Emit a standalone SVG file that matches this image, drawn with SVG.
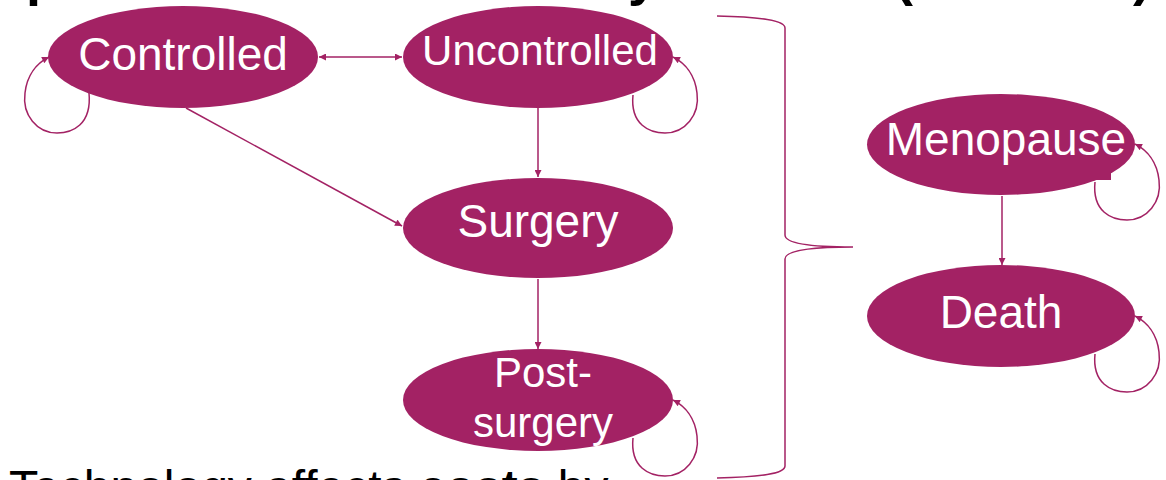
<svg xmlns="http://www.w3.org/2000/svg" width="1166" height="480" viewBox="0 0 1166 480">
<style>
.node{fill:#A32264;}
.lbl{fill:#ffffff;font-family:"Liberation Sans",Arial,sans-serif;text-anchor:middle;}
.edge{fill:none;stroke:#A32264;stroke-width:1.5;}
.title{fill:#000000;font-family:"Liberation Sans",Arial,sans-serif;font-weight:bold;font-size:54px;}
.body{fill:#000000;font-family:"Liberation Sans",Arial,sans-serif;font-size:48px;}
</style>
<defs>
<marker id="ah" viewBox="0 0 10 10" refX="10" refY="5" markerWidth="8" markerHeight="7" markerUnits="userSpaceOnUse" orient="auto-start-reverse">
<path d="M0,0 L10,5 L0,10 z" fill="#A32264"/>
</marker>
</defs>
<rect width="1166" height="480" fill="#ffffff"/>
<text class="title" y="-5"><tspan x="26">p</tspan><tspan x="628">y</tspan><tspan x="895">(</tspan><tspan x="1133">)</tspan></text>
<g id="connectors">
<line class="edge" x1="319" y1="57" x2="402" y2="57" marker-start="url(#ah)" marker-end="url(#ah)"/>
<line class="edge" x1="186" y1="108" x2="402" y2="226" marker-end="url(#ah)"/>
<line class="edge" x1="538" y1="108" x2="538" y2="177" marker-end="url(#ah)"/>
<line class="edge" x1="538" y1="279" x2="538" y2="349" marker-end="url(#ah)"/>
<line class="edge" x1="1002" y1="196" x2="1002" y2="265" marker-end="url(#ah)"/>
<path class="edge" d="M89,93 C92,125 72,133 57,133 C37,133 22,115 25,93 C27,75 37,63 49,57" marker-end="url(#ah)"/>
<path class="edge" d="M633,95 C630,125 650,133 665,133 C685,133 700,115 697,93 C695,75 685,63 673,57" marker-end="url(#ah)"/>
<path class="edge" d="M633,438 C630,468 650,476 665,476 C685,476 700,458 697,436 C695,418 685,406 673,400" marker-end="url(#ah)"/>
<path class="edge" d="M1095,182 C1092,212 1112,220 1127,220 C1147,220 1162,202 1159,180 C1157,162 1147,150 1135,144" marker-end="url(#ah)"/>
<path class="edge" d="M1095,354 C1092,384 1112,392 1127,392 C1147,392 1162,374 1159,352 C1157,334 1147,322 1135,316" marker-end="url(#ah)"/>
<path class="edge" d="M717,16 C760,17 785,20 785,28 L785,235 C785,243 810,247 853,247 C810,247 785,251 785,259 L785,466 C785,474 760,477 717,478"/>
</g>
<g id="controlled">
<ellipse class="node" cx="183" cy="57" rx="135" ry="51"/>
<text class="lbl" x="183" y="70" font-size="46">Controlled</text>
</g>
<g id="uncontrolled">
<ellipse class="node" cx="538" cy="57" rx="135" ry="51"/>
<text class="lbl" x="540" y="65" font-size="42">Uncontrolled</text>
</g>
<g id="surgery">
<ellipse class="node" cx="538" cy="228" rx="135" ry="50"/>
<text class="lbl" x="538" y="237" font-size="46">Surgery</text>
</g>
<g id="post-surgery">
<ellipse class="node" cx="538" cy="400" rx="135" ry="51"/>
<text class="lbl" x="543" y="387" font-size="42">Post-</text>
<text class="lbl" x="543" y="437" font-size="42">surgery</text>
</g>
<g id="menopause">
<ellipse class="node" cx="1001" cy="144.5" rx="134" ry="50.5"/>
<rect class="node" x="1090" y="165" width="21" height="15"/>
<text class="lbl" x="1006" y="155" font-size="46">Menopause</text>
</g>
<g id="death">
<ellipse class="node" cx="1001" cy="316" rx="134" ry="51"/>
<text class="lbl" x="1001" y="328" font-size="46">Death</text>
</g>
<text class="body" x="9" y="504">Technology affects <tspan font-weight="bold">costs</tspan> by</text>
</svg>
